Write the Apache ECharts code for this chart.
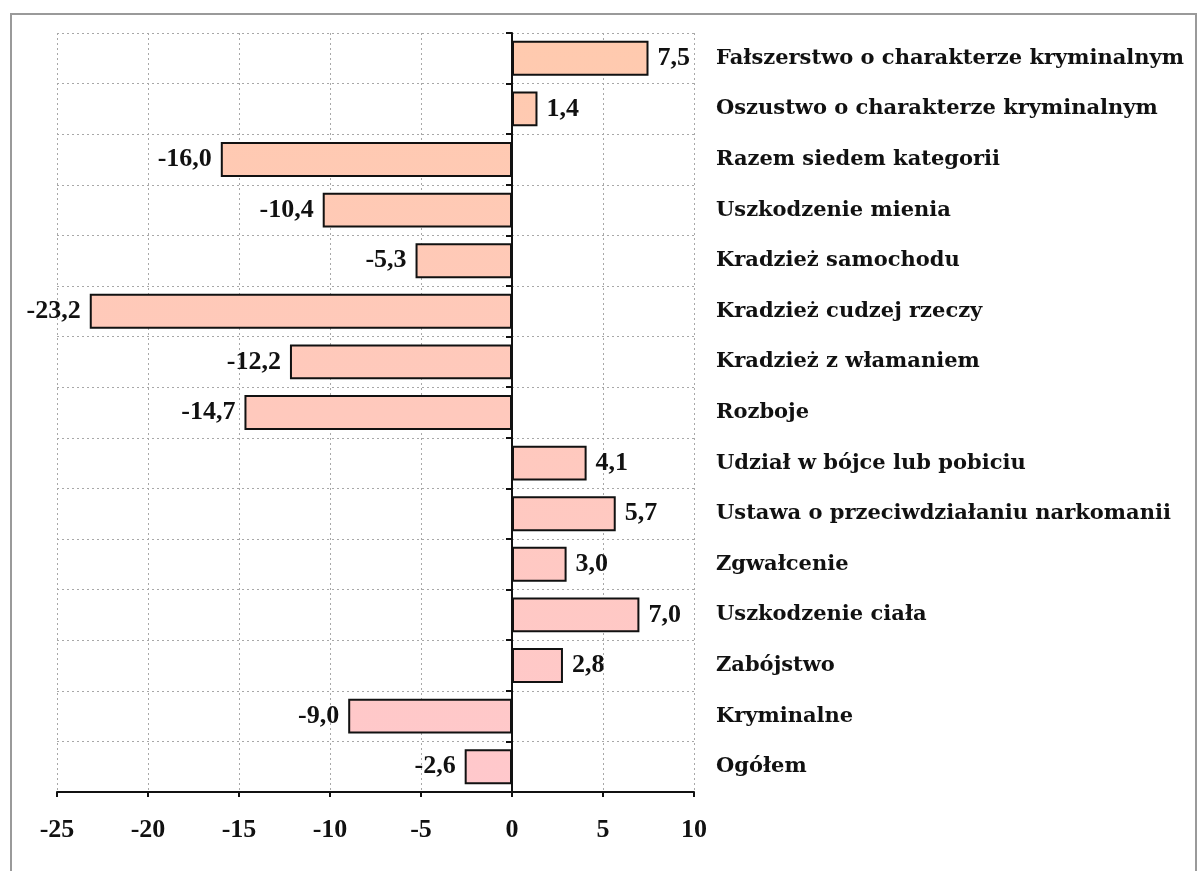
<!DOCTYPE html>
<html>
<head>
<meta charset="utf-8">
<script src="https://cdn.jsdelivr.net/npm/echarts@6/dist/echarts.min.js"></script>
<style>
  html, body { margin: 0; padding: 0; background: #fff; }
  #chart { width: 1198px; height: 871px; }
</style>
</head>
<body>
<div id="chart"></div>
<script>
// kategorie od dołu do góry
const categories = [
  'Ogółem',
  'Kryminalne',
  'Zabójstwo',
  'Uszkodzenie ciała',
  'Zgwałcenie',
  'Ustawa o przeciwdziałaniu narkomanii',
  'Udział w bójce lub pobiciu',
  'Rozboje',
  'Kradzież z włamaniem',
  'Kradzież cudzej rzeczy',
  'Kradzież samochodu',
  'Uszkodzenie mienia',
  'Razem siedem kategorii',
  'Oszustwo o charakterze kryminalnym',
  'Fałszerstwo o charakterze kryminalnym'
]
const values = [-2.6, -9.0, 2.8, 7.0, 3.0, 5.7, 4.1, -14.7, -12.2, -23.2, -5.3, -10.4, -16.0, 1.4, 7.5]
const xTicks = { min: -25, max: 10, step: 5 }

const chart = echarts.init(document.getElementById('chart'))

const gridLine = { show: true, lineStyle: { color: '#a8a8a8', type: [2, 3], width: 1 } }

const option = {
  animation: false,
  backgroundColor: '#fff',
  graphic: [{
    type: 'rect',
    shape: { x: 11, y: 14, width: 1185, height: 880 },
    style: { fill: 'none', stroke: '#9a9a9a', lineWidth: 2 },
    silent: true
  }],
  grid: { left: 57, right: 504, top: 33, bottom: 79 },
  xAxis: {
    type: 'value',
    min: xTicks.min,
    max: xTicks.max,
    interval: xTicks.step,
    axisLine: { show: true, onZero: false, lineStyle: { color: '#111', width: 2 } },
    axisTick: { show: true, length: 5, lineStyle: { color: '#111', width: 2 } },
    axisLabel: {
      margin: 25,
      color: '#111',
      fontFamily: 'Liberation Serif',
      fontWeight: 'bold',
      fontSize: 26
    },
    splitLine: gridLine
  },
  yAxis: [{
    // os z podpisami po prawej
    type: 'category',
    data: categories,
    position: 'right',
    axisLine: { show: false, onZero: false },
    axisTick: { show: false },
    axisLabel: {
      margin: 22,
      align: 'left',
      color: '#111',
      fontFamily: 'DejaVu Serif',
      fontWeight: 'bold',
      fontSize: 21
    },
    splitLine: gridLine
  }, {
    // linia zera z kreskami
    type: 'category',
    data: categories,
    position: 'left',
    axisLine: { show: true, onZero: true, lineStyle: { color: '#111', width: 2 } },
    axisTick: { show: true, length: 6, lineStyle: { color: '#111', width: 2 } },
    axisLabel: { show: false },
    splitLine: { show: false }
  }],
  series: [{
    type: 'bar',
    yAxisIndex: 0,
    data: values.map(v => ({
      value: v,
      label: { position: v < 0 ? 'left' : 'right' }
    })),
    barCategoryGap: '31%',
    itemStyle: {
      color: {
        type: 'linear', x: 0, y: 33, x2: 0, y2: 792, global: true,
        colorStops: [
          { offset: 0, color: '#ffcaae' },
          { offset: 1, color: '#ffc8cc' }
        ]
      },
      borderColor: '#111',
      borderWidth: 2
    },
    label: {
      show: true,
      distance: 9,
      color: '#111',
      fontFamily: 'Liberation Serif',
      fontWeight: 'bold',
      fontSize: 26,
      formatter: p => p.value.toFixed(1).replace('.', ',')
    }
  }]
}

chart.setOption(option)
</script>
</body>
</html>
